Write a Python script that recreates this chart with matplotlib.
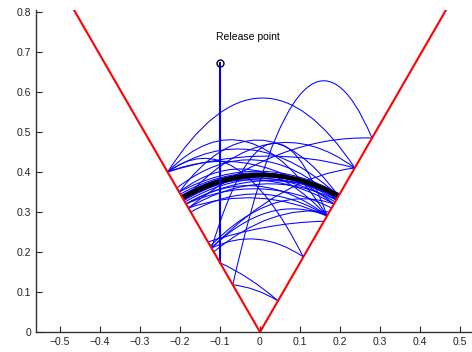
import numpy as np
import matplotlib
matplotlib.use("Agg")
import matplotlib.pyplot as plt
from matplotlib.path import Path
from matplotlib.patches import PathPatch

plt.rcParams['font.family'] = ['Liberation Sans', 'DejaVu Sans']

# wedge walls (60 degrees from horizontal)
wall_x = [-0.465, 0.0, 0.465]
wall_y = [0.805, 0.0, 0.805]

# release point and first drop
release_x = -0.1
release_y = 0.672
drop_end_y = 0.173

# bounce arcs: start x, start y, end x, end y, height at chord midpoint
arc_x0 = [-0.231, -0.068, -0.231, -0.191, -0.179, -0.231, -0.231, -0.208, -0.231, -0.121,
          -0.202, 0.108, -0.202, -0.121,
          -0.196, -0.191, -0.199, -0.188, -0.193, -0.202, -0.185, -0.196,
          -0.194, -0.197, -0.190, -0.195, -0.192,
          -0.185, -0.179, -0.173, -0.185, -0.179, -0.121, -0.121, -0.116, -0.124,
          -0.130, -0.100, 0.045]
arc_y0 = [0.400, 0.118, 0.400, 0.330, 0.310, 0.400, 0.400, 0.360, 0.400, 0.210,
          0.350, 0.188, 0.350, 0.210,
          0.340, 0.330, 0.345, 0.325, 0.335, 0.350, 0.320, 0.340,
          0.336, 0.341, 0.329, 0.338, 0.333,
          0.320, 0.310, 0.300, 0.320, 0.310, 0.210, 0.210, 0.200, 0.215,
          0.225, 0.173, 0.078]
arc_x1 = [0.237, 0.280, 0.168, 0.237, 0.280, 0.196, 0.237, 0.191, 0.185, 0.237,
          0.168, -0.231, 0.196, 0.168,
          0.191, 0.199, 0.196, 0.193, 0.188, 0.199, 0.196, 0.185,
          0.197, 0.194, 0.198, 0.192, 0.197,
          0.168, 0.191, 0.168, 0.179, 0.168, 0.168, 0.108, 0.173, 0.185,
          0.160, 0.045, -0.068]
arc_y1 = [0.410, 0.485, 0.290, 0.410, 0.485, 0.340, 0.410, 0.330, 0.320, 0.410,
          0.290, 0.400, 0.340, 0.290,
          0.330, 0.345, 0.340, 0.335, 0.325, 0.345, 0.340, 0.320,
          0.341, 0.336, 0.343, 0.333, 0.341,
          0.290, 0.330, 0.290, 0.310, 0.290, 0.290, 0.188, 0.300, 0.320,
          0.277, 0.078, 0.118]
arc_ymid = [0.585, 0.600, 0.475, 0.470, 0.445, 0.455, 0.440, 0.430, 0.420, 0.350,
            0.405, 0.410, 0.480, 0.470,
            0.392, 0.388, 0.398, 0.383, 0.385, 0.402, 0.378, 0.380,
            0.395, 0.396, 0.390, 0.394, 0.389,
            0.365, 0.370, 0.345, 0.358, 0.335, 0.300, 0.232, 0.285, 0.320,
            0.262, 0.133, 0.105]

# final periodic orbit
orbit_x0, orbit_y0 = -0.192, 0.337
orbit_x1, orbit_y1 = 0.196, 0.340
orbit_ymid = 0.3925


def arc_path(x0, y0, x1, y1, ymid):
    xm = (x0 + x1) / 2
    cy = 2 * ymid - (y0 + y1) / 2
    return Path([(x0, y0), (xm, cy), (x1, y1)],
                [Path.MOVETO, Path.CURVE3, Path.CURVE3])


fig = plt.figure(figsize=(4.72, 3.52), dpi=100)
ax = fig.add_axes([36 / 472, 20 / 352, 436 / 472, 322 / 352])

for a in zip(arc_x0, arc_y0, arc_x1, arc_y1, arc_ymid):
    ax.add_patch(PathPatch(arc_path(*a), fill=False, edgecolor='b', lw=0.75))

ax.add_patch(PathPatch(arc_path(orbit_x0, orbit_y0, orbit_x1, orbit_y1, orbit_ymid),
                       fill=False, edgecolor='k', lw=3.3, capstyle='butt'))

ax.plot([release_x, release_x], [release_y, drop_end_y], color='b', lw=1.5)
ax.plot(wall_x, wall_y, color='r', lw=1.5)
ax.plot(release_x, release_y, 'o', mfc='none', mec='k', ms=5, mew=1)
ax.text(-0.11, 0.737, 'Release point', fontsize=7.5, va='center', ha='left')

ax.set_xlim(-0.56, 0.53)
ax.set_ylim(0, 0.805)
ax.set_xticks(np.arange(-0.5, 0.51, 0.1))
ax.set_yticks(np.arange(0, 0.81, 0.1))
ax.set_xticklabels(['\u22120.5', '\u22120.4', '\u22120.3', '\u22120.2', '\u22120.1',
                    '0', '0.1', '0.2', '0.3', '0.4', '0.5'])
ax.set_yticklabels(['0', '0.1', '0.2', '0.3', '0.4', '0.5', '0.6', '0.7', '0.8'])
ax.tick_params(direction='in', length=4, labelsize=7.5, width=0.8, colors='#222')
for s in ['top', 'right']:
    ax.spines[s].set_visible(False)
for s in ['left', 'bottom']:
    ax.spines[s].set_linewidth(1.0)
    ax.spines[s].set_color('#333')

fig.savefig('out.png', dpi=100)
